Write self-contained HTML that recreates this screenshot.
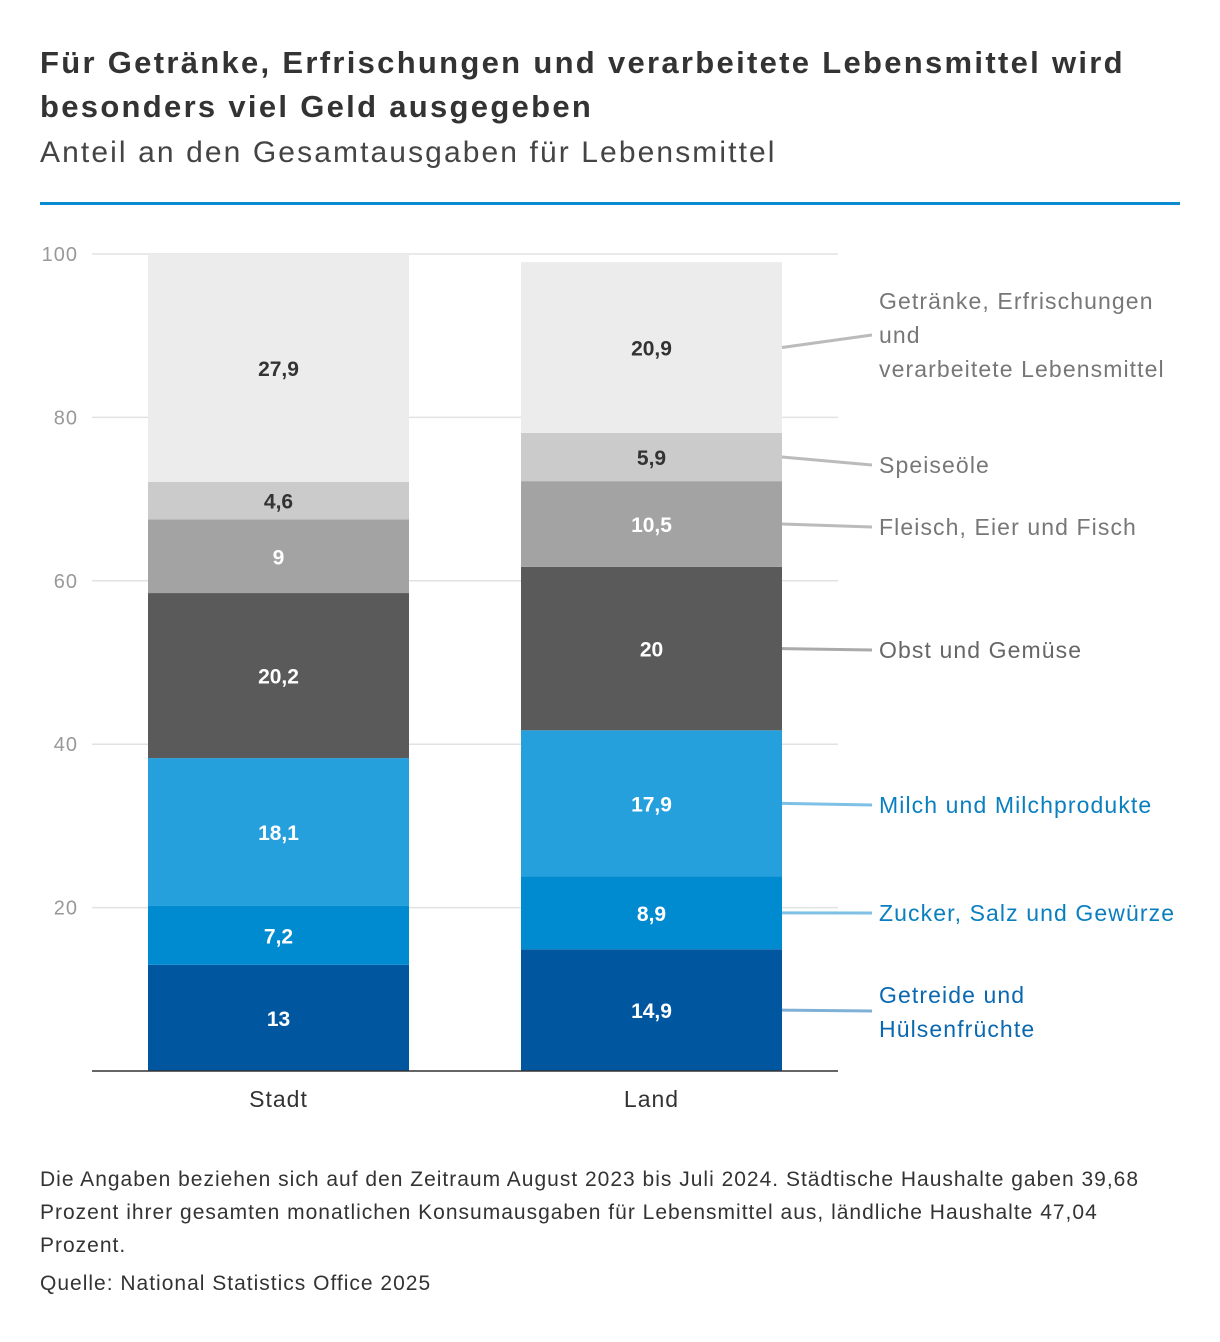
<!DOCTYPE html>
<html><head><meta charset="utf-8"><style>
body{margin:0;background:#fff;font-family:"Liberation Sans",sans-serif;}
#wrap{position:relative;width:1220px;height:1342px;overflow:hidden}
.t{position:absolute;left:40px;color:#333}
</style></head><body><div id="wrap">
<div class="t" style="top:41px;font-size:31px;font-weight:bold;line-height:44px;width:1140px;color:#333;letter-spacing:2.3px">Für Getränke, Erfrischungen und verarbeitete Lebensmittel wird besonders viel Geld ausgegeben</div>
<div class="t" style="top:136px;font-size:30px;color:#444;letter-spacing:2.1px">Anteil an den Gesamtausgaben für Lebensmittel</div>
<div style="position:absolute;left:40px;top:202px;width:1140px;height:3px;background:#0a8ad0"></div>
<svg id="chart" width="1220" height="1342" style="position:absolute;left:0;top:0" font-family="Liberation Sans, sans-serif"></svg>
<div class="t" style="top:1163px;font-size:21px;line-height:33px;width:1140px;letter-spacing:1px">Die Angaben beziehen sich auf den Zeitraum August 2023 bis Juli 2024. Städtische Haushalte gaben 39,68 Prozent ihrer gesamten monatlichen Konsumausgaben für Lebensmittel aus, ländliche Haushalte 47,04 Prozent.</div>
<div class="t" style="top:1272px;font-size:21px;letter-spacing:1px">Quelle: National Statistics Office 2025</div>
</div>
<script>
const categories=["Stadt","Land"];
const seriesNames=["Getreide und Hülsenfrüchte","Zucker, Salz und Gewürze","Milch und Milchprodukte","Obst und Gemüse","Fleisch, Eier und Fisch","Speiseöle","Getränke, Erfrischungen und verarbeitete Lebensmittel"];
const stadt=[13,7.2,18.1,20.2,9,4.6,27.9];
const land=[14.9,8.9,17.9,20,10.5,5.9,20.9];
const ticks=[20,40,60,80,100];
const colors=["#0057a0","#008ad0","#25a0dc","#5a5a5a","#a3a3a3","#cbcbcb","#ececec"];
const textCol=["#fff","#fff","#fff","#fff","#fff","#333","#333"];
const legendLines=[["Getreide und","Hülsenfrüchte"],["Zucker, Salz und Gewürze"],["Milch und Milchprodukte"],["Obst und Gemüse"],["Fleisch, Eier und Fisch"],["Speiseöle"],["Getränke, Erfrischungen","und","verarbeitete Lebensmittel"]];
const legendY=[1011,913,805,650,527,465,335];
const legendCol=["#0a68b0","#0a7fc0","#0a7fc0","#666","#777","#777","#777"];
const lineCol=["#7fb0d6","#7fc0e6","#7fc0e6","#aaa","#bbb","#bbb","#bbb"];
const svg=document.getElementById('chart'),NS="http://www.w3.org/2000/svg";
const y0=1071,y100=254,x0=92,x1=838;
const y=v=>y0-(y0-y100)*v/100;
const barX=[148,521],bw=261;
function mk(t,a){const e=document.createElementNS(NS,t);for(const k in a)e.setAttribute(k,a[k]);svg.appendChild(e);return e;}
ticks.forEach(tk=>{
 const l=mk('line',{x1:x0,x2:x1,y1:y(tk),y2:y(tk),stroke:'#e2e2e2','stroke-width':1.5});
 
 
 const t=mk('text',{x:78,y:y(tk)+7,'text-anchor':'end','font-size':20,fill:'#999','letter-spacing':1});t.textContent=tk;
 
 
});
[stadt,land].forEach((vals,ci)=>{
 let acc=0;
 vals.forEach((v,si)=>{
  const r=mk('rect',{x:barX[ci],y:y(acc+v),width:bw,height:y(acc)-y(acc+v),fill:colors[si]});
  
  
  const t=mk('text',{x:barX[ci]+bw/2,y:(y(acc)+y(acc+v))/2+8,'text-anchor':'middle','font-size':21,'font-weight':'bold',fill:textCol[si]});
  t.textContent=String(v).replace('.',',');
  
  
  if(ci==1){
   const mid=(y(acc)+y(acc+v))/2;
   const ln=mk('line',{x1:782,y1:mid,x2:872,y2:legendY[si],stroke:lineCol[si],'stroke-width':3});
   
   
   const first=si==6?301:(si==0?legendY[si]-16:legendY[si]);
   legendLines[si].forEach((s,k)=>{
    const lt=mk('text',{x:879,y:first+k*34+8,'font-size':23,fill:legendCol[si],'letter-spacing':1.1});lt.textContent=s;
    
    
   });
  }
  acc+=v;
 });
 const c=mk('text',{x:barX[ci]+bw/2,y:1107,'text-anchor':'middle','font-size':23,fill:'#333','letter-spacing':1});c.textContent=categories[ci];
 
 
});
const ax=mk('line',{x1:x0,x2:x1,y1:y0,y2:y0,stroke:'#333','stroke-width':1.5});


</script></body></html>
